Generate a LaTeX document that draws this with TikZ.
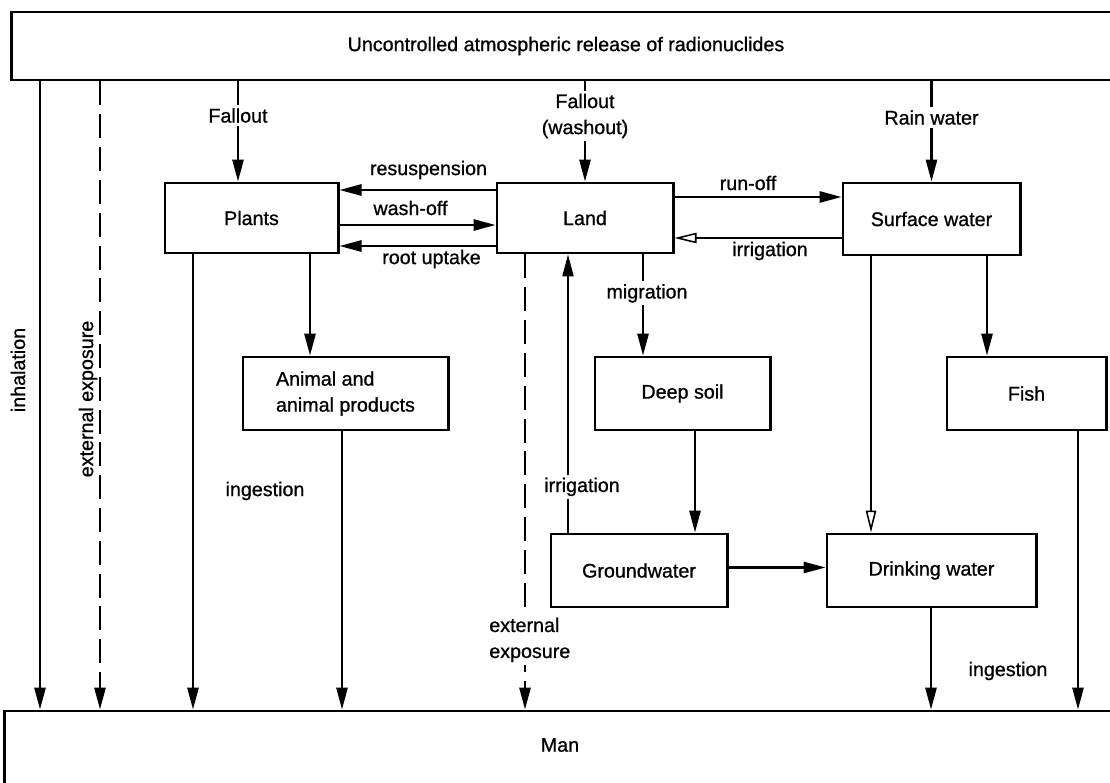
\documentclass[tikz,border=0pt]{standalone}
\usepackage{fontspec}
\setmainfont{Liberation Sans}[BoldFont=Liberation Sans, BoldFeatures={FakeBold=0.9}]
\usepackage{tikz}
\usetikzlibrary{arrows.meta}

\begin{document}
\begin{tikzpicture}[x=0.025cm, y=-0.025cm,
    every node/.style={font=\fontsize{14}{18.5}\selectfont\bfseries},
    box/.style={draw, line width=2.1pt, inner sep=0pt},
    arr/.style={line width=1.6pt, -{Triangle[length=5.5mm, width=2.8mm]}},
    thinarr/.style={arr, line width=1.1pt},
    openarr/.style={line width=1.1pt, -{Triangle[open, length=5.5mm, width=2.6mm]}},
    dasharr/.style={arr, dash pattern=on 6mm off 2.2mm},
    gap/.style={fill=white, inner sep=2pt}]
    \useasboundingbox (0,0) rectangle (1110,782);

    % Components
    \node[box, minimum width=27.7cm, minimum height=1.7cm] (release) at (566,46) {Uncontrolled atmospheric release of radionuclides};
    \node[box, minimum width=27.875cm, minimum height=2.725cm] (man) at (562.5,765.5) {};
    \node (mantext) at (560,745) {Man};

    \node[box, minimum width=4.325cm, minimum height=1.75cm] (plants) at (251.5,218) {Plants};
    \node[box, minimum width=4.4cm, minimum height=1.75cm] (land) at (585,218) {Land};
    \node[box, minimum width=4.425cm, minimum height=1.8cm] (surf) at (931.5,219) {Surface water};

    \node[box, minimum width=5.125cm, minimum height=1.825cm, align=left] (animal) at (345.5,393.5) {Animal and\\animal products};
    \node[box, minimum width=4.375cm, minimum height=1.825cm] (deep) at (682.5,393.5) {Deep soil};
    \node[box, minimum width=3.975cm, minimum height=1.825cm] (fish) at (1026.5,393.5) {Fish};

    \node[box, minimum width=4.4cm, minimum height=1.825cm] (ground) at (639,570.5) {Groundwater};
    \node[box, minimum width=5.225cm, minimum height=1.825cm] (drink) at (931.5,570.5) {Drinking water};

    % x positions of the vertical connectors
    \coordinate (inh) at (40,0);
    \coordinate (ext) at (100,0);
    \coordinate (fo) at (238,0);
    \coordinate (pm) at (193,0);
    \coordinate (pa) at (310,0);
    \coordinate (am) at (342,0);
    \coordinate (le) at (525,0);
    \coordinate (li) at (568,0);
    \coordinate (lm) at (643,0);
    \coordinate (dg) at (695,0);
    \coordinate (sd) at (871,0);
    \coordinate (sf) at (987,0);
    \coordinate (dm) at (931,0);
    \coordinate (fm) at (1078,0);

    % Connections
    \draw[arr] (release.south -| inh) -- (man.north -| inh);
    \node[rotate=90] (tinh) at (18,370) {inhalation};
    \draw[dasharr] (release.south -| ext) -- (man.north -| ext);
    \node[rotate=90] (text) at (88,399) {external exposure};

    \draw[arr] (release.south -| fo) -- node[gap, pos=0.34] (tfall) {Fallout} (plants.north -| fo);
    \draw[arr] (release.south -| land.north) -- node[gap, pos=0.345, align=center] (twash) {Fallout\\(washout)} (land.north);
    \draw[arr] (release.south -| surf.north) -- node[gap, pos=0.36] (train) {Rain water} (surf.north);

    \draw[arr] ([yshift=0.7cm]land.west) -- node[yshift=0.5cm, xshift=0.275cm] (tresus) {resuspension} ([yshift=0.7cm]plants.east);
    \draw[arr] ([yshift=-0.175cm]plants.east) -- node[yshift=0.425cm, xshift=-0.175cm] (twash) {wash-off} ([yshift=-0.175cm]land.west);
    \draw[arr] ([yshift=-0.7cm]land.west) -- node[yshift=-0.325cm, xshift=0.35cm] (troot) {root uptake} ([yshift=-0.7cm]plants.east);

    \draw[arr] ([yshift=0.525cm]land.east) -- node[yshift=0.35cm, xshift=-0.25cm] (trun) {run-off} ([yshift=0.525cm]land.east -| surf.west);
    \draw[openarr] ([yshift=-0.475cm]surf.west) -- node[yshift=-0.325cm, xshift=0.3cm] (tirr) {irrigation} ([yshift=-0.475cm]surf.west -| land.east);

    \draw[arr] (plants.south -| pm) -- (man.north -| pm);
    \draw[arr] (plants.south -| pa) -- (animal.north -| pa);
    \draw[arr] (animal.south -| am) -- (man.north -| am);
    \node (ting) at (265,491) {ingestion};

    \draw[dasharr] (land.south -| le) -- node[gap, pos=0.847, align=left, xshift=0.12cm] (text2) {external\\exposure} (man.north -| le);
    \draw[thinarr] (ground.north -| li) -- node[gap, pos=0.164, xshift=0.35cm] (tirr2) {irrigation} (land.south -| li);
    \draw[arr] (land.south -| lm) -- node[gap, pos=0.385, xshift=0.1cm] (tmig) {migration} (deep.north -| lm);
    \draw[arr] (deep.south -| dg) -- (ground.north -| dg);
    \draw[arr] ([yshift=0.075cm]ground.east) -- ([yshift=0.075cm]drink.west);

    \draw[openarr] (surf.south -| sd) -- (drink.north -| sd);
    \draw[arr] (surf.south -| sf) -- (fish.north -| sf);
    \draw[arr] (fish.south -| fm) -- (man.north -| fm);
    \draw[arr] (drink.south -| dm) -- (man.north -| dm);
    \node (ting2) at (1008,671) {ingestion};

\end{tikzpicture}
\end{document}
